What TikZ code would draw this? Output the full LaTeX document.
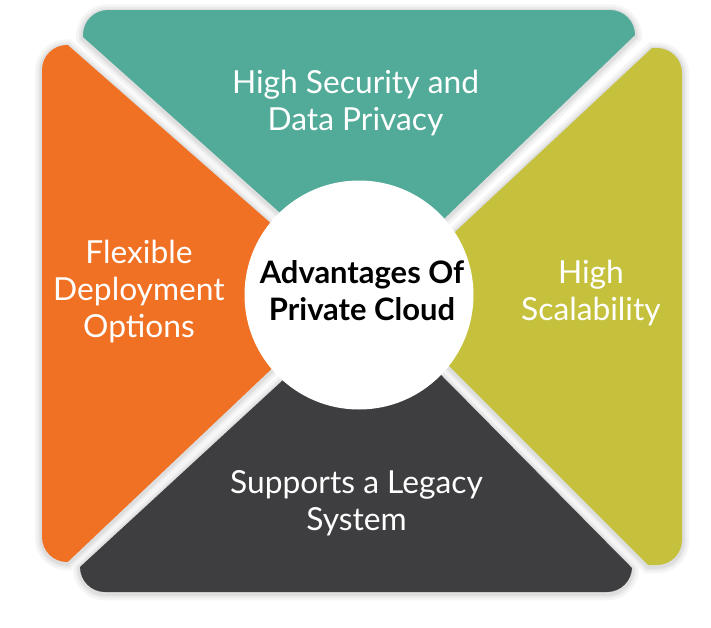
\documentclass[tikz,border=0pt]{standalone}
\usepackage{fontspec}
\setmainfont{Lato}
\usetikzlibrary{calc}
\definecolor{cteal}{HTML}{52AB98}
\definecolor{corange}{HTML}{F07124}
\definecolor{cyellow}{HTML}{C5C13D}
\definecolor{cdark}{HTML}{3E3E40}
\tikzset{
  lbl/.style={text=white, align=center, font=\fontsize{23.8}{27.5}\selectfont, inner sep=0pt, anchor=base},
  hublbl/.style={text=black, align=center, font=\bfseries\fontsize{23.2}{27.5}\selectfont, inner sep=0pt, anchor=base},
}
% #1 colour, #2 rect corner1, #3 rect corner2, #4 farA, #5 apex, #6 farB, #7 normal A, #8 normal B
\newcommand\wedgepiece[8]{%
  \foreach \s/\c in {7/black!4, 4.5/black!8, 2.5/black!13}{%
    \begin{scope}[yshift=-1]
      \clip ($#4+\s*#7$) -- ($#5+\s*#7$) -- ($#5+\s*#8$) -- ($#6+\s*#8$) -- cycle;
      \pgfmathsetmacro\rr{(25+\s)*0.75}
      \fill[\c, rounded corners=\rr pt] ($#2+(-\s,-\s)$) rectangle ($#3+(\s,\s)$);
    \end{scope}}%
}
\newcommand\wedgefill[6]{%
  \begin{scope}
    \clip #4 -- #5 -- #6 -- cycle;
    \fill[#1, rounded corners=18.75pt] #2 rectangle #3;
  \end{scope}%
}
\begin{document}
\begin{tikzpicture}[x=0.75pt,y=-0.75pt]
\useasboundingbox (0,0) rectangle (711,628);
\fill[white] (0,0) rectangle (711,628);
% shadows
\wedgepiece{cteal}{(83,10)}{(635,400)}{(-3.3,-40)}{(368.4,291.6)}{(713,-40)}{(-0.665,0.746)}{(0.693,0.720)}
\wedgepiece{corange}{(42,45)}{(400,562)}{(-30,-40.8)}{(351,293.7)}{(-30,654.5)}{(0.660,-0.752)}{(0.688,0.726)}
\wedgepiece{cyellow}{(320,48)}{(682,565)}{(740,-34)}{(382.6,299.6)}{(740,657)}{(-0.682,-0.731)}{(-0.707,0.707)}
\wedgepiece{cdark}{(80,200)}{(632,592)}{(-21,660)}{(368.3,301.5)}{(723,660)}{(-0.6775,-0.7355)}{(0.711,-0.703)}
% pieces
\wedgefill{cteal}{(83,10)}{(635,400)}{(-3.3,-40)}{(368.4,291.6)}{(713,-40)}
\wedgefill{corange}{(42,45)}{(400,562)}{(-30,-40.8)}{(351,293.7)}{(-30,654.5)}
\wedgefill{cyellow}{(320,48)}{(682,565)}{(740,-34)}{(382.6,299.6)}{(740,657)}
\wedgefill{cdark}{(80,200)}{(632,592)}{(-21,660)}{(368.3,301.5)}{(723,660)}
% hub
\node[circle, fill=white, minimum size=171.75pt, inner sep=0pt] (hub) at (359,295) {};
\node[hublbl] (hubtext) at (362,320) {Advantages Of\\Private Cloud};
% labels (anchored at the baseline of the last line)
\node[lbl] (security) at (355.5,130) {High Security and\\Data Privacy};
\node[lbl] (flexible) at (139,337) {Flexible\\Deployment\\Options};
\node[lbl] (scalability) at (591,320) {High\\Scalability};
\node[lbl] (legacy) at (356.5,530) {Supports a Legacy\\System};
\end{tikzpicture}
\end{document}
